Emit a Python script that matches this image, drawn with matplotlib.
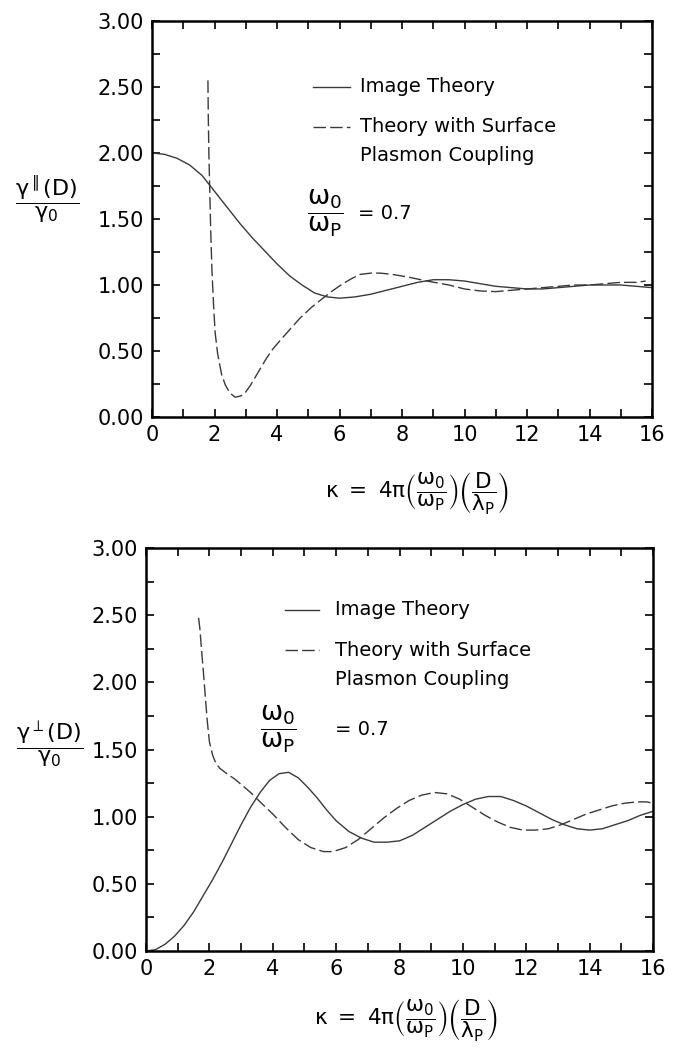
import matplotlib.pyplot as plt
from matplotlib.ticker import MultipleLocator

plt.rcParams['font.family'] = ['DejaVu Sans']
plt.rcParams['mathtext.fontset'] = 'dejavusans'
plt.rcParams['mathtext.default'] = 'regular'

# parallel dipole (top panel)
par_img_x = [0, 0.4, 0.8, 1.2, 1.6, 2.0, 2.4, 2.8, 3.2, 3.6, 4.0, 4.4, 4.8, 5.2, 5.6, 6.0, 6.5,
             7.0, 7.5, 8.0, 8.5, 9.0, 9.5, 10.0, 10.5, 11.0, 11.5, 12.0, 12.5, 13.0, 13.5,
             14.0, 14.5, 15.0, 15.5, 16.0]
par_img_y = [2.00, 1.99, 1.96, 1.91, 1.83, 1.71, 1.59, 1.47, 1.36, 1.26, 1.16, 1.07, 1.00, 0.94,
             0.91, 0.90, 0.91, 0.93, 0.96, 0.99, 1.02, 1.04, 1.04, 1.03, 1.01, 0.99, 0.98, 0.97,
             0.97, 0.98, 0.99, 1.00, 1.00, 1.00, 0.99, 0.98]
par_spc_x = [1.79, 1.80, 1.82, 1.85, 1.88, 1.92, 1.97, 2.02, 2.10, 2.23, 2.35, 2.50, 2.66, 2.85,
             3.00, 3.15, 3.30, 3.45, 3.65, 3.85, 4.10, 4.40, 4.74, 5.10, 5.47, 5.80, 6.11, 6.40,
             6.66, 7.00, 7.30, 7.70, 8.20, 8.80, 9.50, 10.00, 10.50, 11.00, 11.50, 12.00, 12.50,
             13.00, 13.50, 14.00, 14.50, 15.00, 15.50, 15.80]
par_spc_y = [2.55, 2.30, 2.00, 1.70, 1.40, 1.10, 0.85, 0.64, 0.48, 0.32, 0.24, 0.18, 0.15, 0.16,
             0.19, 0.24, 0.30, 0.36, 0.44, 0.51, 0.58, 0.66, 0.75, 0.83, 0.90, 0.96, 1.01, 1.05,
             1.08, 1.09, 1.09, 1.08, 1.06, 1.03, 1.00, 0.97, 0.955, 0.95, 0.96, 0.97, 0.98, 0.99,
             1.00, 1.00, 1.01, 1.02, 1.02, 1.03]

# perpendicular dipole (bottom panel)
perp_img_x = [0, 0.3, 0.6, 0.9, 1.2, 1.5, 1.8, 2.1, 2.4, 2.7, 3.0, 3.3, 3.6, 3.9, 4.2, 4.5, 4.8,
              5.1, 5.4, 5.7, 6.0, 6.4, 6.8, 7.2, 7.6, 8.0, 8.4, 8.8, 9.2, 9.6, 10.0, 10.4, 10.8,
              11.2, 11.6, 12.0, 12.4, 12.8, 13.2, 13.6, 14.0, 14.4, 14.8, 15.2, 15.6, 16.0]
perp_img_y = [0.00, 0.01, 0.05, 0.11, 0.19, 0.29, 0.41, 0.53, 0.66, 0.80, 0.94, 1.07, 1.18, 1.27,
              1.32, 1.33, 1.29, 1.22, 1.14, 1.05, 0.97, 0.89, 0.84, 0.81, 0.81, 0.82, 0.86, 0.92,
              0.98, 1.04, 1.09, 1.13, 1.15, 1.15, 1.12, 1.08, 1.03, 0.98, 0.94, 0.91, 0.90, 0.91,
              0.94, 0.97, 1.01, 1.04]
perp_spc_x = [1.66, 1.70, 1.75, 1.81, 1.87, 1.93, 2.00, 2.10, 2.20, 2.33, 2.55, 2.80, 3.00, 3.30,
              3.60, 4.00, 4.40, 4.80, 5.20, 5.60, 5.90, 6.30, 6.70, 7.10, 7.50, 7.90, 8.30, 8.70,
              9.10, 9.50, 9.90, 10.30, 10.70, 11.10, 11.50, 11.90, 12.30, 12.70, 13.10, 13.50,
              13.90, 14.30, 14.70, 15.10, 15.50, 15.80, 16.00]
perp_spc_y = [2.48, 2.40, 2.25, 2.08, 1.90, 1.72, 1.56, 1.46, 1.40, 1.36, 1.32, 1.28, 1.24, 1.18,
              1.11, 1.02, 0.92, 0.83, 0.77, 0.74, 0.74, 0.77, 0.83, 0.91, 0.99, 1.06, 1.12, 1.16,
              1.18, 1.17, 1.13, 1.07, 1.01, 0.96, 0.92, 0.90, 0.90, 0.91, 0.94, 0.98, 1.02, 1.05,
              1.08, 1.10, 1.11, 1.11, 1.10]

y_ticks = [0, 0.5, 1.0, 1.5, 2.0, 2.5, 3.0]
y_ticklabels = ['0.00', '0.50', '1.00', '1.50', '2.00', '2.50', '3.00']

xlabel = r'$\kappa\ =\ 4\pi\left(\dfrac{\omega_0}{\omega_P}\right)\left(\dfrac{D}{\lambda_P}\right)$'
ratio = r'$\dfrac{\omega_0}{\omega_P}$'

fig = plt.figure(figsize=(6.87, 10.55), dpi=100)
ax1 = fig.add_axes([152/687, 1-417/1055, 500/687, 396/1055])
ax2 = fig.add_axes([146/687, 1-951/1055, 507/687, 403/1055])

col = '#3a3a3a'
dash = (0, (9, 3))


def style(ax):
    ax.set_xlim(0, 16)
    ax.set_ylim(0, 3)
    ax.xaxis.set_major_locator(MultipleLocator(2))
    ax.xaxis.set_minor_locator(MultipleLocator(1))
    ax.yaxis.set_minor_locator(MultipleLocator(0.25))
    ax.set_yticks(y_ticks)
    ax.set_yticklabels(y_ticklabels)
    ax.tick_params(which='both', direction='in', top=True, right=True, width=1.2,
                   length=6, labelsize=15, pad=6)
    for s in ax.spines.values():
        s.set_linewidth(1.8)


# top panel
ax1.plot(par_img_x, par_img_y, color=col, lw=1.0)
ax1.plot(par_spc_x, par_spc_y, color=col, lw=1.0, linestyle=dash)
style(ax1)
ax1.plot([5.15, 6.35], [2.5, 2.5], color=col, lw=1.0)
ax1.plot([5.15, 6.35], [2.2, 2.2], color=col, lw=1.0, linestyle=dash)
ax1.text(6.65, 2.5, 'Image Theory', fontsize=14, va='center')
ax1.text(6.65, 2.2, 'Theory with Surface', fontsize=14, va='center')
ax1.text(6.65, 1.98, 'Plasmon Coupling', fontsize=14, va='center')
ax1.text(4.95, 1.54, ratio, fontsize=19, va='center')
ax1.text(6.6, 1.54, '= 0.7', fontsize=14, va='center')
ax1.text(-0.21, 0.55, r'$\dfrac{\gamma^{\parallel}(D)}{\gamma_0}$', fontsize=16,
         transform=ax1.transAxes, ha='center', va='center')
ax1.text(8.5, -0.58, xlabel, fontsize=15.5, ha='center', va='center')

# bottom panel
ax2.plot(perp_img_x, perp_img_y, color=col, lw=1.0)
ax2.plot(perp_spc_x, perp_spc_y, color=col, lw=1.0, linestyle=dash)
style(ax2)
ax2.plot([4.4, 5.45], [2.54, 2.54], color=col, lw=1.0)
ax2.plot([4.4, 5.45], [2.24, 2.24], color=col, lw=1.0, linestyle=dash)
ax2.text(5.95, 2.54, 'Image Theory', fontsize=14, va='center')
ax2.text(5.95, 2.24, 'Theory with Surface', fontsize=14, va='center')
ax2.text(5.95, 2.02, 'Plasmon Coupling', fontsize=14, va='center')
ax2.text(3.6, 1.65, ratio, fontsize=19, va='center')
ax2.text(5.95, 1.65, '= 0.7', fontsize=14, va='center')
ax2.text(-0.19, 0.51, r'$\dfrac{\gamma^{\perp}(D)}{\gamma_0}$', fontsize=16,
         transform=ax2.transAxes, ha='center', va='center')
ax2.text(8.2, -0.52, xlabel, fontsize=15.5, ha='center', va='center')

fig.savefig('out.png', dpi=100)
